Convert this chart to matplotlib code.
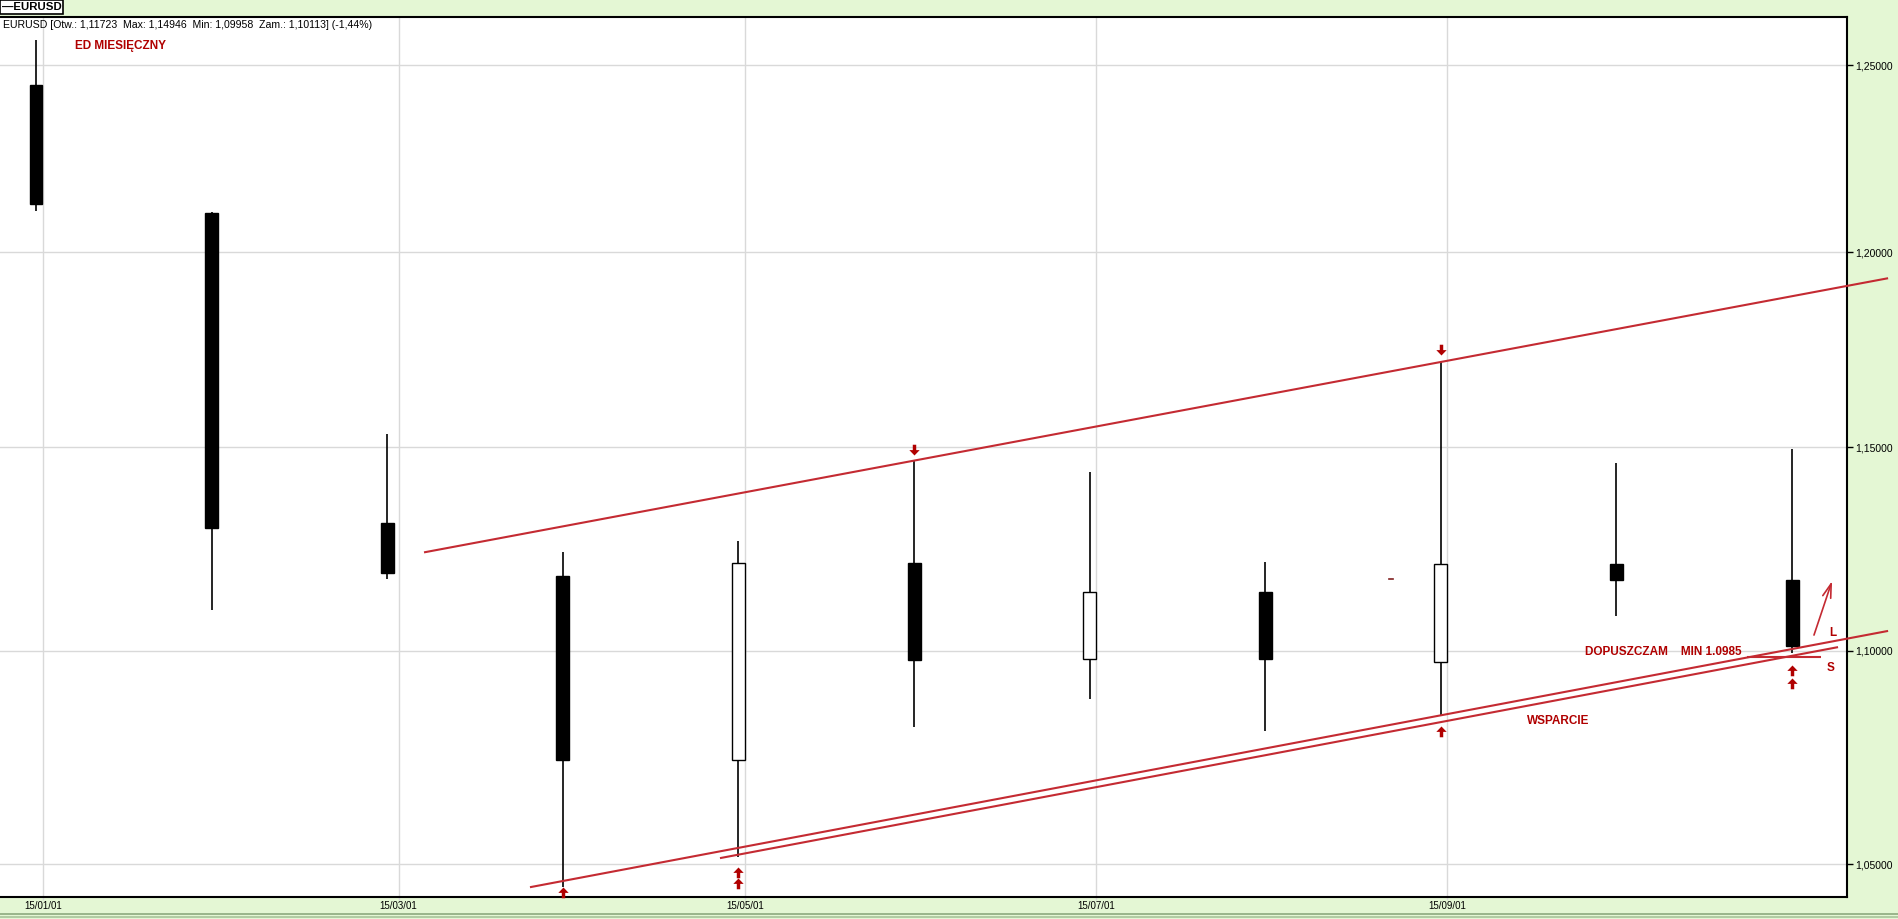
"""
	EURUSD monthly candles with trend channel and notes.
"""

import matplotlib
matplotlib.use("Agg")
import matplotlib.pyplot as plt
from matplotlib.lines import Line2D
from matplotlib.path import Path
from matplotlib.ticker import NullLocator

# monthly candles (index 0..10)
open_ = [1.2446, 1.2103, 1.1311, 1.1181, 1.0740, 1.1213, 1.0980, 1.1142, 1.0973, 1.1210, 1.11723]
high = [1.2568, 1.2107, 1.1533, 1.1239, 1.1267, 1.1465, 1.1438, 1.1215, 1.1718, 1.1461, 1.14946]
low = [1.2108, 1.1099, 1.1173, 1.0447, 1.0516, 1.0818, 1.0884, 1.0809, 1.0847, 1.1084, 1.09958]
close = [1.2128, 1.1299, 1.1188, 1.0740, 1.1213, 1.0978, 1.1142, 1.0980, 1.1210, 1.1171, 1.10113]

x_ticks = [0.04, 2.065, 4.04, 6.035, 8.035]
x_labels = ["15/01/01", "15/03/01", "15/05/01", "15/07/01", "15/09/01"]
y_ticks = [1.05, 1.10, 1.15, 1.20, 1.25]
y_labels = ["1,05000", "1,10000", "1,15000", "1,20000", "1,25000"]

# trend lines: (x0, p0, x1, p1)
upper_line = (2.2096, 1.1239, 10.547, 1.1932)
lower_line1 = (2.813, 1.0447, 10.547, 1.1048)
lower_line2 = (3.895, 1.05135, 10.262, 1.1009)
min_line = (9.744, 1.0985, 10.165, 1.0985)
long_arrow = (10.125, 1.1038, 10.228, 1.1169)

up_arrows_x = [3, 4, 4, 8, 10, 10]
up_arrows_p = [1.0447, 1.0493, 1.0469, 1.0821, 1.0966, 1.0935]
down_arrows_x = [5, 8]
down_arrows_p = [1.1480, 1.1733]

header = "EURUSD [Otw.: 1,11723  Max: 1,14946  Min: 1,09958  Zam.: 1,10113] (-1,44%)"

BG = "#E4F7D4"
RED = "#B00000"
LINE_RED = "#C42A32"
SANS = ["Liberation Sans", "DejaVu Sans"]


def arrow_marker(direction=1):
	"""Filled arrow with its tip at the data point."""
	pts = [(0, 0), (0.48, -0.5), (0.16, -0.5), (0.16, -1.0), (-0.16, -1.0),
		   (-0.16, -0.5), (-0.48, -0.5), (0, 0)]
	pts = [(x, y * direction) for x, y in pts]
	codes = [Path.MOVETO] + [Path.LINETO] * (len(pts) - 2) + [Path.CLOSEPOLY]
	return Path(pts, codes)


W, H = 1899, 919
fig = plt.figure(figsize=(W / 100, H / 100), dpi=100, facecolor=BG)
ax = fig.add_axes([0, 1 - 897 / H, 1847 / W, (897 - 17) / H])
ax.set_facecolor("white")

ax.set_yscale("log")
ax.set_xlim(-0.205, 10.313)
ax.set_ylim(1.04247, 1.2632)

# candles
width = 0.074
for i in range(len(open_)):
	ax.vlines(i, low[i], high[i], color="black", lw=1.2, zorder=3)
	bottom = min(open_[i], close[i])
	top = max(open_[i], close[i])
	face = "black" if close[i] < open_[i] else "white"
	ax.bar(i, top - bottom, bottom=bottom, width=width, color=face,
		   edgecolor="black", linewidth=1.0, zorder=4)

# trend channel
for ln in [upper_line, lower_line1, lower_line2, min_line]:
	ax.plot([ln[0], ln[2]], [ln[1], ln[3]], color=LINE_RED, lw=1.5, zorder=5,
			clip_on=False, solid_capstyle="butt")

ax.annotate("", xy=(long_arrow[2], long_arrow[3]), xytext=(long_arrow[0], long_arrow[1]),
			arrowprops=dict(arrowstyle="->,head_width=0.3,head_length=1.0",
							color=LINE_RED, lw=1.2, shrinkA=0, shrinkB=0), zorder=6)

# small stray dash
ax.plot([7.705, 7.727], [1.1173, 1.1173], color="#802020", lw=1.2, zorder=5)

ax.plot(up_arrows_x, up_arrows_p, ls="none", marker=arrow_marker(1), ms=15.5,
		color=RED, mew=0, zorder=6, clip_on=False)
ax.plot(down_arrows_x, down_arrows_p, ls="none", marker=arrow_marker(-1), ms=15.5,
		color=RED, mew=0, zorder=6, clip_on=False)

# notes
note = dict(color=RED, fontweight="bold", family=SANS, fontsize=8.5, va="center", zorder=7)
ax.text(0.222, 1.2552, "ED MIESIĘCZNY", ha="left", **note)
ax.text(8.821, 1.0997, "DOPUSZCZAM    MIN 1.0985", ha="left", **note)
ax.text(8.491, 1.0833, "WSPARCIE", ha="left", **note)
ax.text(10.234, 1.1043, "L", ha="center", **note)
ax.text(10.222, 1.0958, "S", ha="center", **note)

# axes styling
ax.set_yticks(y_ticks)
ax.set_yticklabels(y_labels, family=SANS, fontsize=7.5)
ax.yaxis.set_minor_locator(NullLocator())
ax.yaxis.tick_right()
ax.set_xticks(x_ticks)
ax.set_xticklabels(x_labels, family=SANS, fontsize=7)
ax.tick_params(axis="y", direction="out", length=4, width=1, pad=2)
ax.tick_params(axis="x", direction="out", length=2, width=1, pad=1, color="#D9D9D9")
ax.grid(True, color="#D9D9D9", lw=1, zorder=0)
ax.set_axisbelow(True)
for side in ["top", "right", "bottom"]:
	ax.spines[side].set_linewidth(1.5)
	ax.spines[side].set_color("black")
ax.spines["left"].set_visible(False)

ax.text(3 / 1847, 1 - 8 / 880, header, transform=ax.transAxes, ha="left", va="center",
		family=SANS, fontsize=7.6)

# header tab and bottom border
fig.text(2 / W, 1 - 7 / H, "—EURUSD", ha="left", va="center", family=SANS,
		 fontweight="bold", fontsize=8.2,
		 bbox=dict(boxstyle="square,pad=0.15", facecolor="white", edgecolor="black", lw=1.2))
fig.add_artist(Line2D([0, 1], [1 - 914 / H, 1 - 914 / H], color="#8DAA7E", lw=1.2))
fig.add_artist(Line2D([0, 1], [1 - 917 / H, 1 - 917 / H], color="#A9C49A", lw=1.2))

fig.savefig("out.png", dpi=100, facecolor=BG)
